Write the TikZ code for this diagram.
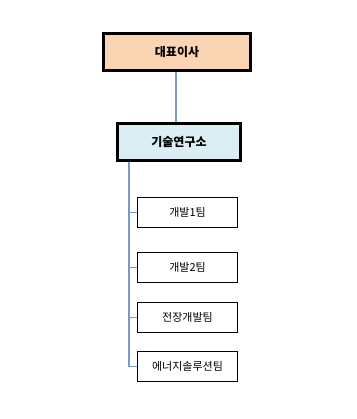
\documentclass[tikz,border=0pt]{standalone}
\usepackage{fontspec}
\setmainfont{Noto Sans CJK KR}
\usetikzlibrary{positioning}
\definecolor{peach}{RGB}{251,212,180}
\definecolor{lightcyan}{RGB}{219,238,243}
\definecolor{linkblue}{RGB}{124,153,200}

\begin{document}
\begin{tikzpicture}[
  x=1pt, y=1pt,
  headbox/.style={rectangle, draw=black, line width=3pt,
    minimum height=37pt, align=center, font=\fontsize{12}{14}\selectfont\bfseries},
  teambox/.style={rectangle, draw=black, line width=0.9pt,
    minimum width=100pt, minimum height=30pt, align=center,
    font=\fontsize{11}{13}\selectfont},
  link/.style={draw=linkblue, line width=1.2pt}
]
  \useasboundingbox (0,0) rectangle (356,-419);

  \node[headbox, fill=peach, minimum width=147pt] (ceo) at (177,-52) {대표이사};
  \node[headbox, fill=lightcyan, minimum width=123pt, below=50pt of ceo, xshift=2pt] (lab) {기술연구소};
  \node[teambox, below=35pt of lab, xshift=8.5pt] (team1) {개발1팀};
  \node[teambox, below=24pt of team1] (team2) {개발2팀};
  \node[teambox, below=19pt of team2] (team3) {전장개발팀};
  \node[teambox, below=18pt of team3] (team4) {에너지솔루션팀};

  \coordinate (trunk) at ([xshift=-50pt]lab.south);

  \draw[link] (ceo.south -| 176,0) -- (lab.north -| 176,0);
  \draw[link] (trunk) -- (trunk |- team4.west) -- (team4.west);
  \draw[link] (trunk |- team1.west) -- (team1.west);
  \draw[link] (trunk |- team2.west) -- (team2.west);
  \draw[link] (trunk |- team3.west) -- (team3.west);
\end{tikzpicture}
\end{document}
